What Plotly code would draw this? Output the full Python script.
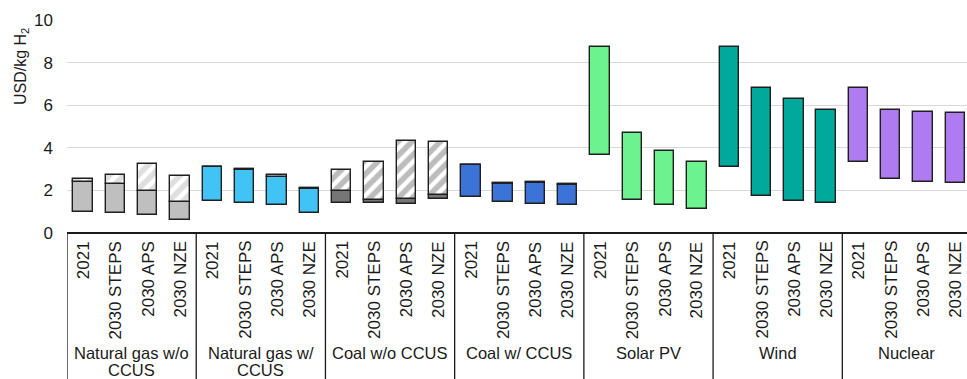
import plotly.graph_objects as go

# Hydrogen production cost ranges by technology and scenario (USD/kg H2)
groups = ["Natural gas w/o CCUS", "Natural gas w/ CCUS", "Coal w/o CCUS",
          "Coal w/ CCUS", "Solar PV", "Wind", "Nuclear"]
group_lines = [["Natural gas w/o", "CCUS"], ["Natural gas w/", "CCUS"],
               ["Coal w/o CCUS"], ["Coal w/ CCUS"], ["Solar PV"], ["Wind"], ["Nuclear"]]
scenarios = ["2021", "2030 STEPS", "2030 APS", "2030 NZE"]

# bottom of each range
low = [1.00, 0.93, 0.84, 0.60,
       1.50, 1.42, 1.31, 0.92,
       1.41, 1.42, 1.36, 1.58,
       1.69, 1.44, 1.36, 1.31,
       3.66, 1.55, 1.31, 1.11,
       3.11, 1.74, 1.52, 1.42,
       3.32, 2.54, 2.41, 2.36]
# top of the solid part (upper part = CO2 price component)
mid = [2.38, 2.30, 1.97, 1.45,
       3.08, 2.96, 2.64, 2.06,
       1.97, 1.55, 1.60, 1.80,
       3.17, 2.28, 2.36, 2.26,
       8.75, 4.69, 3.84, 3.35,
       8.75, 6.82, 6.31, 5.76,
       6.79, 5.77, 5.67, 5.62]
# top of each range
high = [2.54, 2.73, 3.22, 2.68,
        3.11, 3.02, 2.70, 2.12,
        2.94, 3.35, 4.32, 4.29,
        3.19, 2.33, 2.41, 2.31,
        8.75, 4.69, 3.84, 3.35,
        8.75, 6.82, 6.31, 5.76,
        6.79, 5.77, 5.67, 5.62]

group_colors = ["#bfbfbf", "#41c4f5", "#767676", "#3b74d6", "#6cf28e", "#00a99b", "#ae7cf0"]
hatch_colors = ["#bdbdbd", "#bdbdbd", "#7a7a7a", "#bdbdbd", "#bdbdbd", "#bdbdbd", "#bdbdbd"]

n_per = len(scenarios)
xs = list(range(len(groups) * n_per))
solid_colors = [group_colors[i // n_per] for i in xs]
stripe_colors = [hatch_colors[i // n_per] for i in xs]

fig = go.Figure()

# solid part of each range
fig.add_trace(go.Bar(
    x=xs, y=[m - l for l, m in zip(low, mid)], base=low, width=0.6,
    marker=dict(color=solid_colors, line=dict(color="#1f1f1f", width=1.4)),
    hoverinfo="skip", showlegend=False,
))

# hatched upper part
hx = [x for x, m, h in zip(xs, mid, high) if h - m > 1e-9]
hb = [m for m, h in zip(mid, high) if h - m > 1e-9]
hy = [h - m for m, h in zip(mid, high) if h - m > 1e-9]
hc = [stripe_colors[x] for x in hx]
fig.add_trace(go.Bar(
    x=hx, y=hy, base=hb, width=0.6,
    marker=dict(color="white", line=dict(color="#1f1f1f", width=1.4),
                pattern=dict(shape="/", fgcolor=hc, bgcolor="white",
                             size=10, solidity=0.55, fillmode="overlay")),
    hoverinfo="skip", showlegend=False,
))

FONT = "Liberation Sans, Arial, sans-serif"
T = 20
B = 146
H = 379
plot_h = H - T - B


def py(pix):
    # pixel row -> paper y
    return (H - B - pix) / plot_h


annotations = []
for i, x in enumerate(xs):
    annotations.append(dict(
        x=x, y=py(239), xref="x", yref="paper", text=scenarios[i % n_per],
        textangle=-90, showarrow=False, xanchor="center", yanchor="top",
        font=dict(family=FONT, size=17, color="#1a1a1a")))

for g, lines in enumerate(group_lines):
    cx = g * n_per + (n_per - 1) / 2
    for k, line in enumerate(lines):
        annotations.append(dict(
            x=cx, y=py(353 + 17 * k), xref="x", yref="paper", text=line,
            showarrow=False, xanchor="center", yanchor="middle",
            font=dict(family=FONT, size=16.5, color="#1a1a1a")))

annotations.append(dict(
    x=-0.051, y=py(67), xref="paper", yref="paper", text="USD/kg H<sub>2</sub>",
    textangle=-90, showarrow=False, xanchor="center", yanchor="middle",
    font=dict(family=FONT, size=16, color="#1a1a1a")))

shapes = []
for g in range(len(groups)):
    shapes.append(dict(type="line", xref="x", yref="paper",
                       x0=g * n_per - 0.5, x1=g * n_per - 0.5, y0=0, y1=-1.0,
                       line=dict(color="#1a1a1a", width=1.3)))

fig.update_layout(
    width=967, height=379,
    margin=dict(l=67, r=0, t=T, b=B),
    paper_bgcolor="white", plot_bgcolor="white",
    barmode="overlay",
    bargap=0,
    xaxis=dict(range=[-0.5, 27.36], showticklabels=False, showgrid=False,
               zeroline=False, showline=False, ticks=""),
    yaxis=dict(range=[0, 10], tickvals=[0, 2, 4, 6, 8, 10], showgrid=True,
               gridcolor="#d9d9d9", gridwidth=1, zeroline=True,
               zerolinecolor="#1a1a1a", zerolinewidth=1.5, showline=False,
               ticks="", ticklabelstandoff=13,
               tickfont=dict(family=FONT, size=17, color="#1a1a1a")),
    annotations=annotations,
    shapes=shapes,
)

fig.write_html("out.html")
